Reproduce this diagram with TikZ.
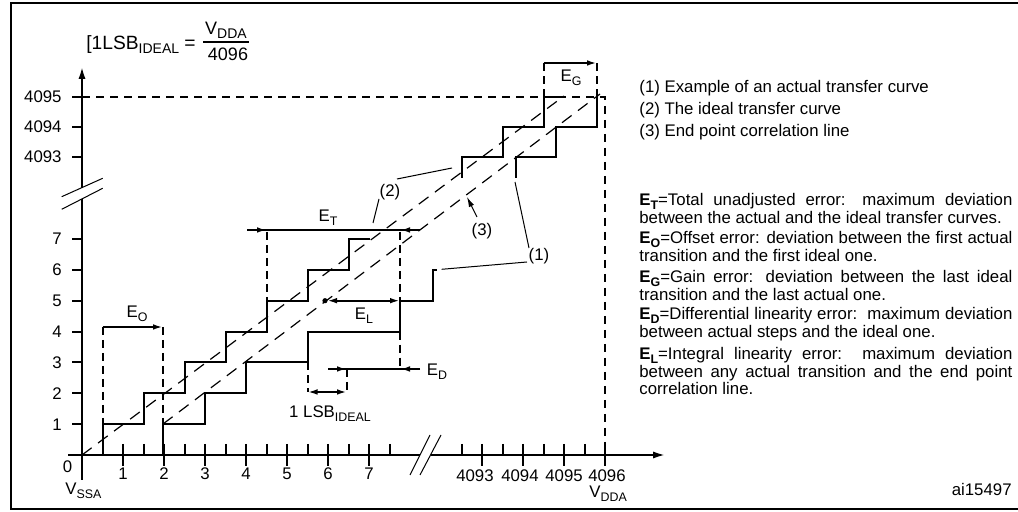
\documentclass[tikz,border=0pt]{standalone}
\usepackage{fontspec}
\setmainfont{Liberation Sans}
\usetikzlibrary{arrows.meta}
\newcommand{\subx}[1]{\raisebox{-1.8pt}[0pt][0pt]{\fontsize{6.2}{6.2}\selectfont #1}}
\newcommand{\subxl}[1]{\raisebox{-2pt}[0pt][0pt]{\fontsize{7}{7}\selectfont #1}}
\begin{document}
\begin{tikzpicture}[x=0.5pt,y=-0.5pt,
  font=\fontsize{8.4}{10}\selectfont,
  ln/.style={line width=1pt},
  lead/.style={line width=0.5pt},
  dsh/.style={line width=1pt, dash pattern=on 4pt off 3pt},
  dshv/.style={line width=1pt, dash pattern=on 4pt off 2.5pt},
  tdsh/.style={line width=0.6pt, dash pattern=on 6pt off 4pt},
  tip/.style={-{Latex[length=5pt,width=2.8pt]}},
  ax/.style={line width=1pt,-{Latex[length=6pt,width=3.6pt]}},
  lbl/.style={inner sep=0pt},
  leg/.style={inner sep=0pt, anchor=base west, text width=186.5pt, align=justify,
     font=\fontsize{8.4}{8.7}\selectfont}]
\useasboundingbox (0,0) rectangle (1018,512);
% frame
\draw[line width=1pt] (1020,3) -- (10.5,3) -- (10.5,509.5) -- (1020,509.5);

% axes
\coordinate (ystart) at (82,480);
\coordinate (ybrk1) at (82,199);
\coordinate (ybrk2) at (82,188);
\coordinate (ytop) at (82,67);
\draw[ln] (ystart) -- (ybrk1);
\draw[ax] (ybrk2) -- (ytop);
\coordinate (xstart) at (68,455);
\coordinate (xbrk1) at (420,455);
\coordinate (xbrk2) at (430.5,455);
\coordinate (xend) at (665,455);
\draw[ln] (xstart) -- (xbrk1);
\draw[ax] (xbrk2) -- (xend);
% breaks
\draw[lead] (61.7,196.7) -- (102.7,178.3);
\draw[lead] (61.7,209.3) -- (102.7,188.3);
\draw[lead] (410,475) -- (430,435);
\draw[lead] (420,475) -- (441,435);

% y ticks and labels
\foreach \k in {1,...,7}{
  \pgfmathsetmacro{\yy}{455-30.86*\k}
  \draw[ln] (72,\yy) -- (82,\yy);
  \node[lbl,anchor=base east] (ylab\k) at (62,\yy+6) {\k};
}
\foreach \v/\yy in {4093/157,4094/127,4095/97}{
  \draw[ln] (72,\yy) -- (82,\yy);
  \node[lbl,anchor=base east] (ylab\v) at (62,\yy+6) {\v};
}
% x ticks and labels
\foreach \k in {1,...,7}{
  \pgfmathsetmacro{\xx}{82+41*\k}
  \draw[ln] (\xx,444) -- (\xx,466);
  \node[lbl,anchor=base] (xlab\k) at (\xx,480) {\k};
}
\foreach \k in {0,...,7}{
  \pgfmathsetmacro{\xx}{102.5+41*\k}
  \draw[ln] (\xx,444) -- (\xx,455);
}
\foreach \xx in {461.5,502.5,543.5,584.5}{
  \draw[ln] (\xx,444) -- (\xx,455);
}
\foreach \xx/\lx/\v in {482/475/4093,523/520/4094,564/564/4095,605/607/4096}{
  \draw[ln] (\xx,444) -- (\xx,466);
  \node[lbl,anchor=base] (xlab\v) at (\lx,482) {\v};
}
\node[lbl,anchor=base] (zero) at (67.5,473) {0};
\node[lbl,anchor=base west] (vssa) at (65,495) {V\subx{SSA}};
\node[lbl,anchor=base west] (vdda) at (589,498) {V\subx{DDA}};

% formula
\node[lbl,anchor=base west,font=\fontsize{9.6}{10}\selectfont] (lsbdef) at (86,50) {[1LSB\subxl{IDEAL} =};
\node[lbl,anchor=base,font=\fontsize{9}{10}\selectfont] (fnum) at (226,35) {V\subxl{DDA}};
\node[lbl,anchor=base,font=\fontsize{9}{10}\selectfont] (fden) at (228,61) {4096};
\draw[line width=0.7pt] (203,42) -- (249,42);

% 4095 / 4096 dashed frame
\draw[dsh] (82,97) -- (605,97) -- (605,455);

% ideal and end-point lines
\draw[tdsh] (82,455) -- (564,96);
\draw[tdsh] (163,424) -- (600,94);

% ideal staircase (2)
\draw[ln] (102.5,455) -- (102.5,424.1) -- (143.5,424.1) -- (143.5,393.3)
  -- (184.5,393.3) -- (184.5,362.4) -- (225.5,362.4) -- (225.5,331.6)
  -- (266.5,331.6) -- (266.5,300.7) -- (307.5,300.7) -- (307.5,269.8)
  -- (348.5,269.8) -- (348.5,239) -- (370,239);
\draw[ln] (461.7,178) -- (461.7,157) -- (502.7,157) -- (502.7,127)
  -- (543.5,127) -- (543.5,97) -- (564,97);
% actual staircase (1)
\draw[ln] (163,455) -- (163,424.1) -- (205,424.1) -- (205,393.3)
  -- (246,393.3) -- (246,362.4) -- (307.5,362.4) -- (307.5,331.6)
  -- (400,331.6) -- (400,300.7) -- (433,300.7) -- (433,269.8) -- (437,269.8);
\draw[ln] (515.7,178) -- (515.7,157) -- (556,157) -- (556,127)
  -- (597,127) -- (597,97);

% E_O
\draw[dshv] (102.5,327) -- (102.5,424.1);
\draw[dshv] (163,327) -- (163,424.1);
\draw[ln,tip] (102.5,327) -- (163,327);
\node[lbl,anchor=base] (eo) at (137,318) {E\subx{O}};

% E_T
\draw[dshv] (267,232) -- (267,300.7);
\draw[dshv] (400,232) -- (400,300.7);
\draw[dshv] (400,331.6) -- (400,369);
\draw[ln] (247,230) -- (420,230);
\draw[ln,tip] (247,230) -- (267,230);
\draw[ln,tip] (420,230) -- (400,230);
\node[lbl,anchor=base] (et) at (328,222) {E\subx{T}};

% E_L
\fill (325,300.7) circle (1.3pt);
\draw[ln,{Latex[length=5pt,width=2.8pt]}-{Latex[length=5pt,width=2.8pt]}] (327,300.7) -- (400,300.7);
\node[lbl,anchor=base] (el) at (364,320) {E\subx{L}};

% E_D
\draw[ln] (328,369) -- (420,369);
\draw[ln,tip] (328,369) -- (347,369);
\draw[ln,tip] (420,369) -- (400,369);
\node[lbl,anchor=base] (ed) at (437,376) {E\subx{D}};
\draw[dshv] (347,369) -- (347,392);
\draw[dshv] (307.5,362.4) -- (307.5,392);
\draw[ln,{Latex[length=5pt,width=2.8pt]}-{Latex[length=5pt,width=2.8pt]}] (307.5,392) -- (347,392);
\node[lbl,anchor=base] (lsb) at (330,418) {1 LSB\subx{IDEAL}};

% E_G
\draw[dshv] (543.5,97) -- (543.5,63);
\draw[dshv] (597,97) -- (597,63);
\draw[ln,tip] (543.5,63) -- (597,63);
\node[lbl,anchor=base] (eg) at (571,82) {E\subx{G}};

% callout labels
\node[lbl,anchor=base] (c2) at (390,197) {(2)};
\draw[lead] (397,179) -- (452,168);
\draw[lead] (379,199) -- (373,223);
\node[lbl,anchor=base] (c3) at (482,236) {(3)};
\draw[lead,-{Latex[length=5pt,width=2.8pt]}] (477,217) -- (467,197);
\node[lbl,anchor=base] (c1) at (539,261) {(1)};
\draw[lead] (527,262) -- (441.7,269.3);
\draw[lead] (529,248) -- (515,182);

% legend
\node[lbl,anchor=base west] (l1) at (639,93) {(1) Example of an actual transfer curve};
\node[lbl,anchor=base west] (l2) at (639,114.5) {(2) The ideal transfer curve};
\node[lbl,anchor=base west] (l3) at (639,136.5) {(3) End point correlation line};
\node[leg] (lt) at (639,205.7) {\textbf{E\subx{T}}=Total unadjusted error: maximum deviation\linebreak between the actual and the ideal transfer curves.};
\node[leg] (lo) at (639,244) {\textbf{E\subx{O}}=Offset error: deviation between the first actual\linebreak transition and the first ideal one.};
\node[leg] (lg) at (639,283) {\textbf{E\subx{G}}=Gain error: deviation between the last ideal\linebreak transition and the last actual one.};
\node[leg] (ld) at (639,320) {\textbf{E\subx{D}}=Differential linearity error:\ \ maximum deviation\linebreak between actual steps and the ideal one.};
\node[leg] (ll) at (639,360) {\textbf{E\subx{L}}=Integral linearity error:\ \ maximum deviation\linebreak between any actual transition and the end point\linebreak correlation line.};
\node[lbl,anchor=base east] (ai) at (1012,496) {ai15497};
\end{tikzpicture}
\end{document}
